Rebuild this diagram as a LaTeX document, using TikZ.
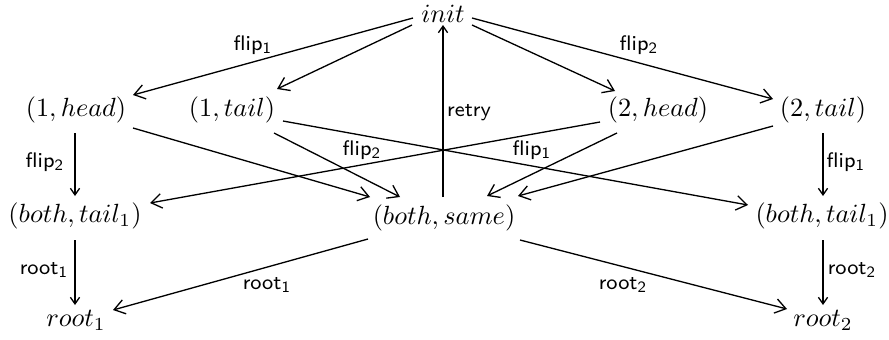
\documentclass[tikz,border=0pt]{standalone}
\usetikzlibrary{arrows.meta}
\begin{document}
\begin{tikzpicture}[x=0.38pt,y=-0.38pt,
  st/.style={inner sep=0pt,anchor=center},
  lab/.style={font=\footnotesize\sffamily,inner sep=0pt},
  edge/.style={line width=0.5pt,-{Straight Barb[length=4pt,width=5.5pt]}},
  vedge/.style={line width=0.5pt,-{Straight Barb[length=2.5pt,width=3.5pt]}}]
\useasboundingbox (0,0) rectangle (889,339);
\node[st] (init) at (443,14) {$init$};
\node[st] (h1) at (76,110) {$(1, head)$};
\node[st] (t1) at (232,110) {$(1, tail)$};
\node[st] (h2) at (658,110) {$(2, head)$};
\node[st] (t2) at (823,110) {$(2, tail)$};
\node[st] (lb) at (75,216) {$(both, tail_1)$};
\node[st] (same) at (444,218) {$(both, same)$};
\node[st] (rb) at (822,216) {$(both, tail_1)$};
\node[st] (r1) at (76,320) {$root_1$};
\node[st] (r2) at (823,320) {$root_2$};
% edges
\draw[edge] ([shift={(-30,4)}]init.center) -- ([shift={(57,-15)}]h1.center);
\draw[edge] ([shift={(-31,11)}]init.center) -- ([shift={(45,-21)}]t1.center);
\draw[edge] ([shift={(29,11)}]init.center) -- ([shift={(-43,-19)}]h2.center);
\draw[edge] ([shift={(29,4)}]init.center) -- ([shift={(-50,-11)}]t2.center);
\draw[vedge] ([shift={(-1,23)}]h1.center) -- ([shift={(0,-20)}]lb.center);
\draw[edge] ([shift={(57,18)}]h1.center) -- ([shift={(-74,-21)}]same.center);
\draw[edge] ([shift={(42,23)}]t1.center) -- ([shift={(-44,-21)}]same.center);
\draw[edge] ([shift={(51,11)}]t1.center) -- ([shift={(-74,-11)}]rb.center);
\draw[edge] ([shift={(-58,12)}]h2.center) -- ([shift={(75,-13)}]lb.center);
\draw[edge] ([shift={(-41,23)}]h2.center) -- ([shift={(43,-22)}]same.center);
\draw[edge] ([shift={(-50,16)}]t2.center) -- ([shift={(74,-22)}]same.center);
\draw[vedge] ([shift={(0,23)}]t2.center) -- ([shift={(1,-20)}]rb.center);
\draw[vedge] ([shift={(-1,-21)}]same.center) -- ([shift={(0,11)}]init.center);
\draw[vedge] ([shift={(0,24)}]lb.center) -- ([shift={(-1,-15)}]r1.center);
\draw[edge] ([shift={(-76,21)}]same.center) -- ([shift={(37,-10)}]r1.center);
\draw[edge] ([shift={(76,22)}]same.center) -- ([shift={(-36,-11)}]r2.center);
\draw[vedge] ([shift={(1,24)}]rb.center) -- ([shift={(0,-15)}]r2.center);
% labels
\node[lab] (l1) at (253,45) {flip$_{\mathsf{1}}$};
\node[lab] (l2) at (639,45) {flip$_{\mathsf{2}}$};
\node[lab] (l3) at (469,113) {retry};
\node[lab] (l4) at (45,162) {flip$_{\mathsf{2}}$};
\node[lab] (l5) at (846,162) {flip$_{\mathsf{1}}$};
\node[lab] (l6) at (362,150) {flip$_{\mathsf{2}}$};
\node[lab] (l7) at (532,150) {flip$_{\mathsf{1}}$};
\node[lab] (l8) at (44,270) {root$_{\mathsf{1}}$};
\node[lab] (l9) at (267,285) {root$_{\mathsf{1}}$};
\node[lab] (l10) at (623,285) {root$_{\mathsf{2}}$};
\node[lab] (l11) at (852,270) {root$_{\mathsf{2}}$};
\end{tikzpicture}
\end{document}
